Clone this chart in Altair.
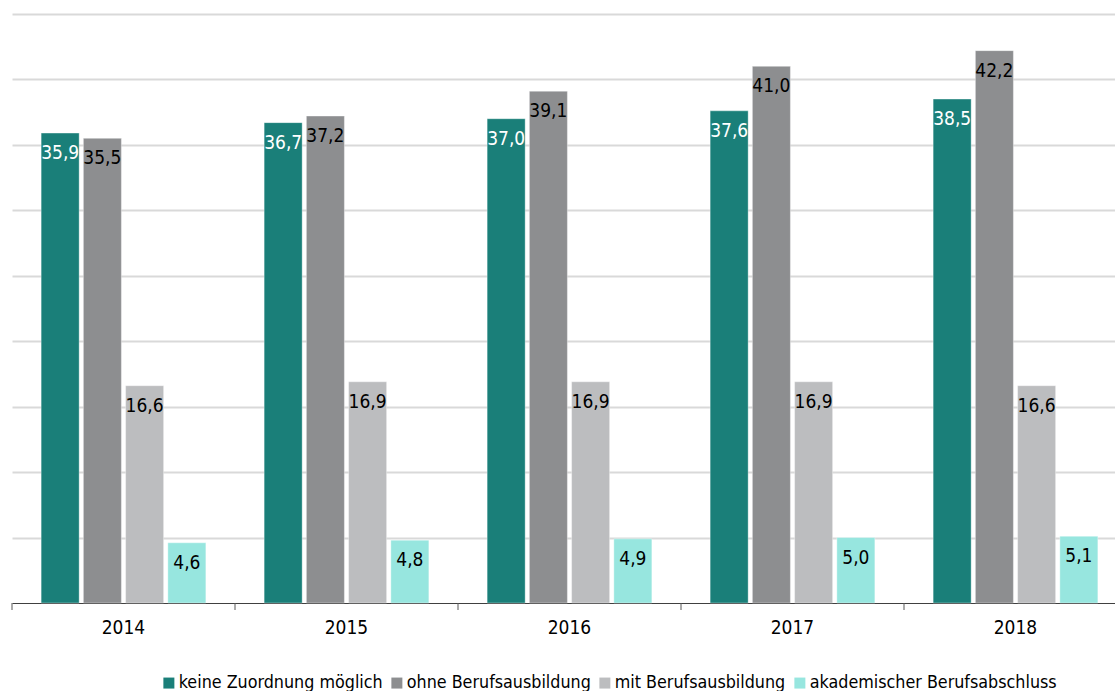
import altair as alt
import pandas as pd

years = ["2014", "2015", "2016", "2017", "2018"]
categories = ["keine Zuordnung möglich", "ohne Berufsausbildung",
              "mit Berufsausbildung", "akademischer Berufsabschluss"]
keine = [35.9, 36.7, 37.0, 37.6, 38.5]
ohne = [35.5, 37.2, 39.1, 41.0, 42.2]
mit = [16.6, 16.9, 16.9, 16.9, 16.6]
akad = [4.6, 4.8, 4.9, 5.0, 5.1]
colors = ["#1a7f79", "#8d8e90", "#bcbdbf", "#97e6df"]
label_colors = ["#ffffff", "#000000", "#000000", "#000000"]

rows = []
for cat, vals, lc in zip(categories, [keine, ohne, mit, akad], label_colors):
    for y, v in zip(years, vals):
        rows.append({"year": y, "cat": cat, "value": v,
                     "label": f"{v:.1f}".replace(".", ","), "lc": lc})
df = pd.DataFrame(rows)
ticks_df = pd.DataFrame({"year": years})

FONT = "DejaVu Sans Condensed"
FS = 19

x_enc = alt.X("year:N", sort=years,
              scale=alt.Scale(range=[0, 1115], paddingInner=0, paddingOuter=0),
              axis=alt.Axis(title=None, ticks=False, grid=False, domainColor="#404040",
                            domainWidth=1, labelFontSize=FS, labelColor="#000000",
                            labelFont=FONT, labelPadding=15, labelAngle=0))
xo_enc = alt.XOffset("cat:N", sort=categories,
                     scale=alt.Scale(paddingInner=0.1, paddingOuter=0.69))
y_enc = alt.Y("value:Q",
              scale=alt.Scale(domain=[0, 45], nice=False),
              axis=alt.Axis(title=None, labels=False, ticks=False, domain=False,
                            values=[5, 10, 15, 20, 25, 30, 35, 40, 45],
                            gridColor="#d9d9d9", gridWidth=2))

bars = alt.Chart(df).mark_bar(strokeWidth=1, strokeOpacity=0.35, stroke="#ffffff").encode(
    x=x_enc,
    xOffset=xo_enc,
    y=y_enc,
    color=alt.Color("cat:N", sort=categories,
                    scale=alt.Scale(domain=categories, range=colors),
                    legend=alt.Legend(title=None, orient="none", direction="horizontal",
                                      legendX=148, legendY=660, symbolType="square",
                                      symbolSize=121, symbolStrokeWidth=0,
                                      labelFontSize=17.75, labelFont=FONT, labelLimit=0,
                                      labelColor="#000000", labelOffset=1,
                                      columnPadding=5, padding=0)),
)

labels = alt.Chart(df).mark_text(baseline="middle", dy=20, fontSize=FS, font=FONT).encode(
    x=alt.X("year:N", sort=years),
    xOffset=alt.XOffset("cat:N", sort=categories),
    y=alt.Y("value:Q"),
    text="label:N",
    color=alt.Color("lc:N", scale=None),
)

ticks = alt.Chart(ticks_df).mark_rule(color="#595959", strokeWidth=1).encode(
    x=alt.X("year:N", sort=years, bandPosition=0),
    y=alt.value(589),
    y2=alt.value(596),
)

chart = alt.layer(bars, labels, ticks).properties(
    width=1103, height=589,
    background="#ffffff",
    autosize=alt.AutoSizeParams(type="none"),
    padding={"left": 12, "top": 14, "right": 0, "bottom": 88},
).configure_view(strokeWidth=0, stroke="transparent").configure_axisY(domain=False)

chart.save("out.html", embed_options={"renderer": "svg", "actions": False})
